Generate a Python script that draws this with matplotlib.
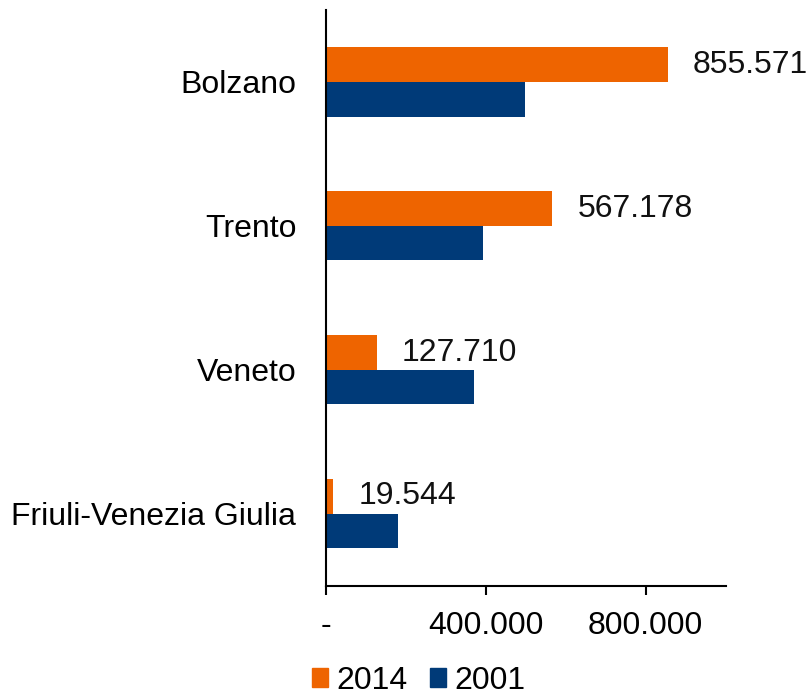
import matplotlib
matplotlib.use("Agg")
import matplotlib.pyplot as plt
from matplotlib.patches import Patch
import numpy as np

categories = ["Bolzano", "Trento", "Veneto", "Friuli-Venezia Giulia"]
values_2014 = [855571, 567178, 127710, 19544]
values_2001 = [498000, 393000, 371000, 180000]
labels_2014 = ["855.571", "567.178", "127.710", "19.544"]
xticks = [0, 400000, 800000]
xticklabels = ["-", "400.000", "800.000"]

c2014 = "#EE6400"
c2001 = "#003A78"

plt.rcParams['font.family'] = ['Liberation Sans', 'DejaVu Sans']
fs = 23

fig = plt.figure(figsize=(8.08, 6.97), dpi=100)
ax = fig.add_axes([325.5 / 808, 111.3 / 697, 400 / 808, 575.7 / 697])

y = np.arange(len(categories))
h = 0.24
ax.barh(y - h / 2, values_2014, height=h, color=c2014, label="2014")
ax.barh(y + h / 2, values_2001, height=h, color=c2001, label="2001")

for yi, v, lab in zip(y, values_2014, labels_2014):
    ax.annotate(lab, xy=(v, yi - h / 2), xytext=(18, 0), textcoords="offset points",
                ha="left", va="center", fontsize=fs, color="#111111")

ax.set_ylim(len(categories) - 0.5, -0.5)
ax.set_xlim(0, 1000000)
ax.set_yticks(y)
ax.set_yticklabels(categories, fontsize=fs)
ax.tick_params(axis="y", length=0, pad=21)
ax.set_xticks(xticks)
ax.set_xticklabels(xticklabels, fontsize=fs)
ax.tick_params(axis="x", length=6.5, width=1.5, direction="out", pad=12)

for s in ["top", "right"]:
    ax.spines[s].set_visible(False)
ax.spines["left"].set_linewidth(1.5)
ax.spines["bottom"].set_linewidth(1.5)

handles = [Patch(color=c2014, label="2014"), Patch(color=c2001, label="2001")]
fig.legend(handles=handles, loc="center", bbox_to_anchor=(418.5 / 808, 16 / 697),
           ncol=2, frameon=False, fontsize=fs, handlelength=0.52, handleheight=0.52,
           handletextpad=0.25, columnspacing=0.7, borderpad=0)

fig.savefig("out.png", dpi=100)
